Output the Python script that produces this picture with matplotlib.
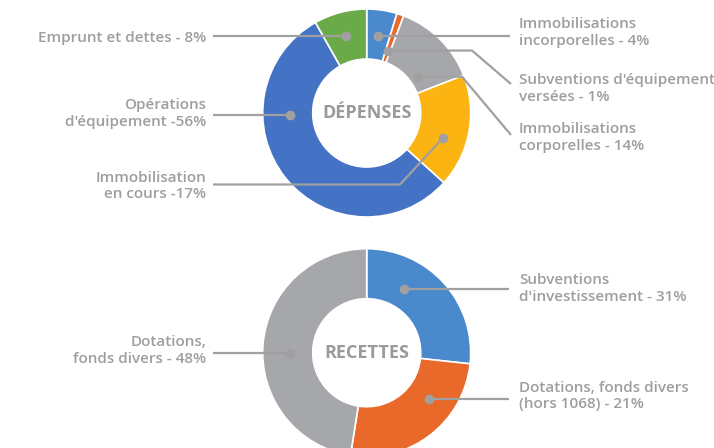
import matplotlib.pyplot as plt
import numpy as np

# --- data ---
dep_labels = ["Immobilisations\nincorporelles - 4%",
              "Subventions d'équipement\nversées - 1%",
              "Immobilisations\ncorporelles - 14%",
              "Immobilisation\nen cours -17%",
              "Opérations\nd'équipement -56%",
              "Emprunt et dettes - 8%"]
dep_values = [4.7, 1.1, 13.3, 17.6, 55.1, 8.2]
dep_colors = ["#4a89cc", "#e8692a", "#a6a7aa", "#fbb411", "#4472c4", "#6aaa48"]

rec_labels = ["Subventions\nd'investissement - 31%",
              "Dotations, fonds divers\n(hors 1068) - 21%",
              "Dotations,\nfonds divers - 48%"]
rec_values = [26.7, 25.8, 47.5]
rec_colors = ["#4a89cc", "#e8692a", "#a6a7aa"]

TXT = "#9e9e9e"
LINE = "#a0a0a0"
FONT = "Open Sans"


def mid_angles(values):
    # screen angle (deg, clockwise from 12 o'clock) of each wedge centre
    v = np.array(values, dtype=float)
    cum = np.cumsum(v) / v.sum() * 360
    return cum - v / v.sum() * 360 / 2


def point(center, ang, r):
    a = np.radians(ang)
    return center[0] + r * np.sin(a), center[1] - r * np.cos(a)


def donut(ax, center, values, colors, title):
    # y axis is inverted, so data angle -90 is the top and ccw is clockwise on screen
    ax.pie(values, colors=colors, center=center, radius=104, startangle=-90,
           counterclock=True, frame=True,
           wedgeprops=dict(width=50, edgecolor="white", linewidth=1.2))
    ax.text(center[0], center[1], title, ha="center", va="center",
            fontsize=13, fontweight="bold", color="#9a9a9a", family=FONT)


def leader(ax, pts):
    xs, ys = zip(*pts)
    ax.plot(xs, ys, color=LINE, lw=1.6, solid_capstyle="butt", zorder=3)
    ax.plot(xs[0], ys[0], "o", color=LINE, ms=6, zorder=4)


fig = plt.figure(figsize=(7.14, 4.48), dpi=100)
ax = fig.add_axes([0, 0, 1, 1])

c1 = (366.7, 113)
c2 = (366.7, 352.7)
donut(ax, c1, dep_values, dep_colors, "DÉPENSES")
donut(ax, c2, rec_values, rec_colors, "RECETTES")

# leader-line anchors: angle offset from wedge middle, radius
dep_off = [0, 0, 10, 8, 37, 0]
dep_r = [78, 66, 63, 80, 77, 80]
rec_off = [-18, -16, -4.5]
rec_r = [74, 78, 77]
dep_dots = [point(c1, a + o, r) for a, o, r in zip(mid_angles(dep_values), dep_off, dep_r)]
rec_dots = [point(c2, a + o, r) for a, o, r in zip(mid_angles(rec_values), rec_off, rec_r)]

# label positions (x, y centre, side)
dep_pos = [(519, 32.5, "l"), (519, 88.5, "l"), (519, 137.5, "l"),
           (206, 186, "r"), (206, 113.5, "r"), (206, 37.5, "r")]
rec_pos = [(519, 288.5, "l"), (519, 396, "l"), (206, 350.5, "r")]

# leader paths (after the dot)
dep_paths = [
    [(510, dep_dots[0][1])],
    [(472, dep_dots[1][1]), (511, 84)],
    [(462, dep_dots[2][1]), (511, 135)],
    [(400, 184.5), (213, 184.5)],
    [(213, dep_dots[4][1])],
    [(213, dep_dots[5][1])],
]
rec_paths = [
    [(509, rec_dots[0][1])],
    [(509, rec_dots[1][1])],
    [(213, rec_dots[2][1])],
]

for labels, dots, pos, paths in [(dep_labels, dep_dots, dep_pos, dep_paths),
                                 (rec_labels, rec_dots, rec_pos, rec_paths)]:
    for lab, d, (x, y, side), path in zip(labels, dots, pos, paths):
        leader(ax, [d] + path)
        ax.text(x, y, lab, ha="left" if side == "l" else "right", va="center",
                multialignment="left" if side == "l" else "right",
                fontsize=11, fontweight="semibold", color=TXT, family=FONT,
                linespacing=1.2)

ax.set_xlim(0, 714)
ax.set_ylim(448, 0)
ax.set_aspect("equal")
ax.axis("off")

fig.savefig("out.png", dpi=100)
